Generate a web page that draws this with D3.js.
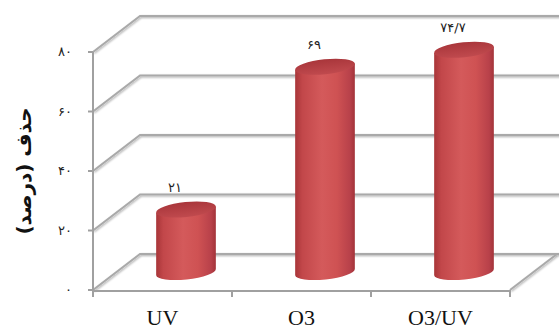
<!DOCTYPE html>
<html>
<head>
<meta charset="utf-8">
<script src="https://cdn.jsdelivr.net/npm/d3@7"></script>
<style>
  html, body { margin: 0; padding: 0; background: #fff; }
  svg { display: block; }
</style>
</head>
<body>
<svg id="chart" width="559" height="331"></svg>
<script>
// Removal percentage by treatment
const categories = ["UV", "O3", "O3/UV"];
const values = [21, 69, 74.7];
const valueLabels = ["۲۱", "۶۹", "۷۴/۷"];
const yTicks = [0, 20, 40, 60, 80];
const yTickLabels = ["۰", "۲۰", "۴۰", "۶۰", "۸۰"];
const yTitle = "حذف (درصد)";

const svg = d3.select("#chart");
const W = 559, H = 331;

// front plane of the 3D box
const plotLeft = 93, plotRight = 510, plotBottom = 290, plotTop = 52;
// depth offset of the back wall
const depthX = 47, depthY = 36;

const x = d3.scaleBand().domain(categories).range([plotLeft, plotRight]).padding(0);
const y = d3.scaleLinear().domain([0, 80]).range([plotBottom, plotTop]);

const gridColor = "#a9a9a9";
const fmt = v => yTickLabels[yTicks.indexOf(v)];

// soft shadow under grid lines
const defs = svg.append("defs");
const shadow = defs.append("filter").attr("id", "gshadow")
  .attr("x", "-5%").attr("y", "-20%").attr("width", "110%").attr("height", "140%");
shadow.append("feGaussianBlur").attr("in", "SourceAlpha").attr("stdDeviation", 0.8).attr("result", "b");
shadow.append("feOffset").attr("in", "b").attr("dx", 0.5).attr("dy", 1).attr("result", "o");
shadow.append("feComponentTransfer").attr("in", "o").attr("result", "s")
  .append("feFuncA").attr("type", "linear").attr("slope", 0.35);
const merge = shadow.append("feMerge");
merge.append("feMergeNode").attr("in", "s");
merge.append("feMergeNode").attr("in", "SourceGraphic");

// cylinder gradients
const bodyGrad = defs.append("linearGradient").attr("id", "body")
  .attr("x1", "0%").attr("x2", "100%").attr("y1", "0%").attr("y2", "0%");
[["0%", "#a83538"], ["12%", "#c2474a"], ["45%", "#d45a5b"], ["70%", "#cf5253"], ["92%", "#b8414a"], ["100%", "#a33339"]]
  .forEach(([o, c]) => bodyGrad.append("stop").attr("offset", o).attr("stop-color", c));
const topGrad = defs.append("linearGradient").attr("id", "capTop")
  .attr("x1", "0%").attr("x2", "0%").attr("y1", "0%").attr("y2", "100%");
[["0%", "#a9363b"], ["100%", "#c04a4e"]]
  .forEach(([o, c]) => topGrad.append("stop").attr("offset", o).attr("stop-color", c));

const g = svg.append("g");

// floor and back wall grid lines
const gridG = g.append("g").attr("filter", "url(#gshadow)")
  .attr("fill", "none").attr("stroke", gridColor).attr("stroke-width", 2);

gridG.selectAll("path.grid")
  .data(yTicks)
  .join("path")
  .attr("class", "grid")
  .attr("d", v => {
    const p = d3.path();
    p.moveTo(plotLeft, y(v));
    p.lineTo(plotLeft + depthX, y(v) - depthY);
    p.lineTo(W + 5, y(v) - depthY);
    return p.toString();
  });

// right edge of the floor
gridG.append("path")
  .attr("d", () => {
    const p = d3.path();
    p.moveTo(plotRight, y(0));
    p.lineTo(plotRight + depthX, y(0) - depthY);
    return p.toString();
  });

// front axes
const axG = g.append("g").attr("stroke", "#a0a0a0").attr("stroke-width", 2).attr("fill", "none");
axG.append("line").attr("x1", plotLeft).attr("x2", plotLeft).attr("y1", y(80)).attr("y2", y(0) + 2);
axG.append("line").attr("x1", plotLeft - 1).attr("x2", plotRight + 1).attr("y1", y(0) + 1).attr("y2", y(0) + 1);
axG.selectAll("line.yt").data(yTicks).join("line").attr("class", "yt")
  .attr("x1", plotLeft - 5).attr("x2", plotLeft).attr("y1", v => y(v)).attr("y2", v => y(v));
const xTickPos = categories.map(c => x(c)).concat([x(categories[categories.length - 1]) + x.bandwidth()]);
axG.selectAll("line.xt").data(xTickPos).join("line").attr("class", "xt")
  .attr("x1", d => d).attr("x2", d => d).attr("y1", y(0) + 1).attr("y2", y(0) + 7);

// y tick labels
g.append("g").selectAll("text").data(yTicks).join("text")
  .attr("x", plotLeft - 21).attr("y", v => y(v) + 4)
  .attr("text-anchor", "end")
  .attr("font-family", "DejaVu Sans, Noto Sans, sans-serif")
  .attr("font-size", 13).attr("fill", "#222")
  .text(fmt);

// y axis title
g.append("text")
  .attr("transform", `translate(31, ${(plotTop + plotBottom) / 2}) rotate(-90)`)
  .attr("text-anchor", "middle")
  .attr("font-family", "DejaVu Sans, Noto Sans, sans-serif")
  .attr("font-size", 20).attr("font-weight", "bold").attr("fill", "#111")
  .text(yTitle);

// category labels
g.append("g").selectAll("text").data(categories).join("text")
  .attr("x", c => x(c) + x.bandwidth() / 2)
  .attr("y", 325)
  .attr("text-anchor", "middle")
  .attr("font-family", "Liberation Serif, Times New Roman, serif")
  .attr("font-size", 22).attr("fill", "#111")
  .text(c => c);

// cylinders, placed halfway into the depth
const rx = 30, ry = 7.5, tilt = -6;
const rad = tilt * Math.PI / 180;
const ex = rx * Math.cos(rad), ey = rx * Math.sin(rad);

const bars = g.append("g").selectAll("g.bar")
  .data(categories.map((c, i) => ({ c, v: values[i], label: valueLabels[i] })))
  .join("g").attr("class", "bar");

bars.each(function (d) {
  const gb = d3.select(this);
  const cx = x(d.c) + x.bandwidth() / 2 + depthX / 2;
  const yb = y(0) - depthY / 2;
  const yt = y(d.v) - depthY / 2;
  // body with rounded base
  const body = `M${cx - ex},${yt - ey} L${cx - ex},${yb - ey} ` +
    `A${rx},${ry} ${tilt} 0 0 ${cx + ex},${yb + ey} L${cx + ex},${yt + ey} Z`;
  gb.append("path").attr("d", body).attr("fill", "url(#body)");
  // top cap
  gb.append("ellipse")
    .attr("cx", 0).attr("cy", 0).attr("rx", rx).attr("ry", ry)
    .attr("transform", `translate(${cx},${yt}) rotate(${tilt})`)
    .attr("fill", "url(#capTop)");
  // value label
  gb.append("text")
    .attr("x", cx - 11).attr("y", yt - 18)
    .attr("text-anchor", "middle")
    .attr("direction", "ltr")
    .attr("font-family", "DejaVu Sans, Noto Sans, sans-serif")
    .attr("font-size", 13).attr("fill", "#222")
    .text(d.label);
});
</script>
</body>
</html>
